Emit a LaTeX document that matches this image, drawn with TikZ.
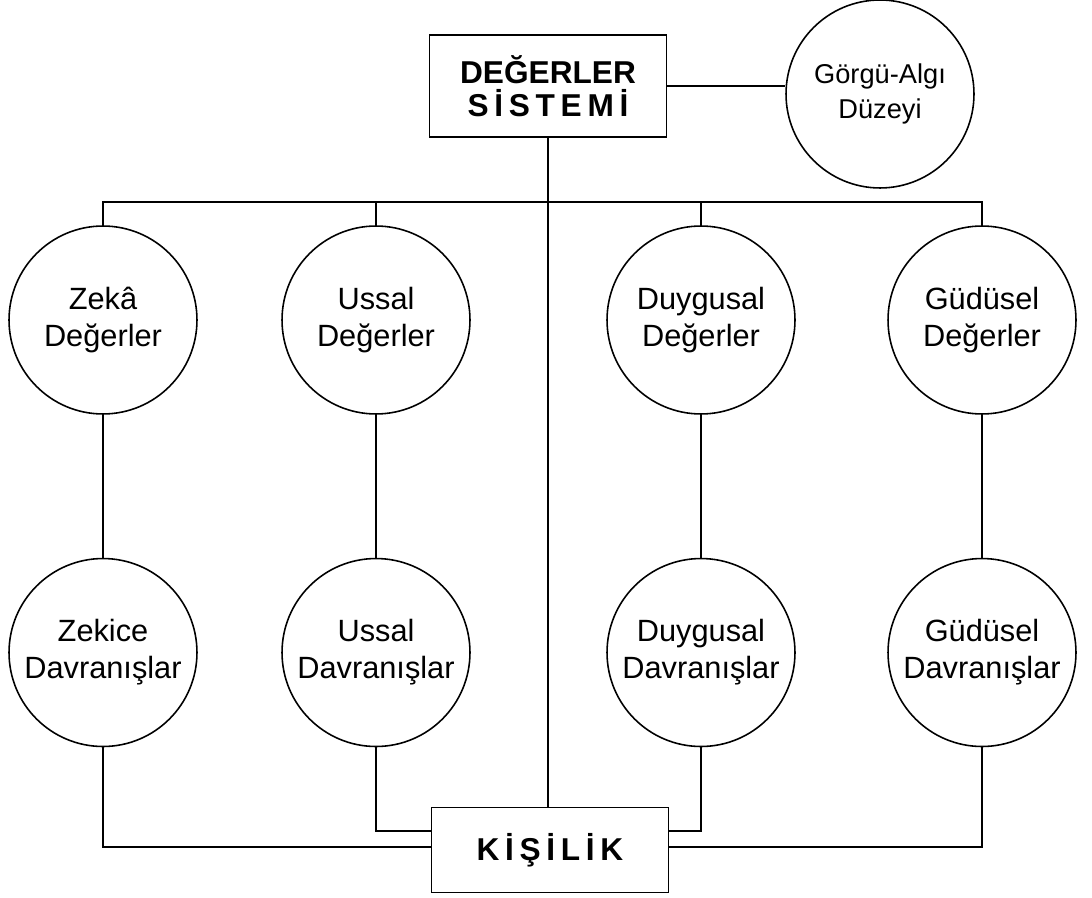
\documentclass[tikz,border=0pt]{standalone}
\usepackage{fontspec}
\setmainfont{Liberation Sans}
\newfontfamily\spacedfont[LetterSpace=18]{Liberation Sans}
\usetikzlibrary{positioning}
\tikzset{
    valuebox/.style={
        rectangle,
        draw=black,
        line width=0.9pt,
        minimum width=4.74cm,
        minimum height=2.04cm,
        inner sep=0pt,
        font=\bfseries\fontsize{18}{18.8}\selectfont,
        align=center,
    },
    valuecirc/.style={
        circle,
        draw=black,
        line width=0.9pt,
        minimum size=3.76cm,
        inner sep=0pt,
        font=\fontsize{17.5}{21}\selectfont,
        align=center,
    },
}

\begin{document}
\begin{tikzpicture}[x=0.02cm,y=-0.02cm,node distance=2.86cm,line width=0.9pt]
	    \useasboundingbox (0,0) rectangle (1092,898);
	    \node [valuebox] (DS) at (548,86) {DEĞERLER\\{\spacedfont\bfseries SİSTEMİ}};
	    \node [valuecirc,font=\fontsize{15.5}{19.4}\selectfont] (GA) at (880,94) {Görgü-Algı\\Düzeyi};
	    \node [valuebox,minimum height=1.7cm] (KI) at (550,850) {\spacedfont\bfseries KİŞİLİK};
	    \node [valuecirc] (zd) at (103,320) {Zekâ\\Değerler};
	    \node [valuecirc] (ud) at (376,320) {Ussal\\Değerler};
	    \node [valuecirc] (dd) at (701,320) {Duygusal\\Değerler};
	    \node [valuecirc] (gd) at (982,320) {Güdüsel\\Değerler};
	    \node [valuecirc] (zb) [below=of zd] {Zekice\\Davranışlar};
	    \node [valuecirc] (ub) [below=of ud] {Ussal\\Davranışlar};
	    \node [valuecirc] (db) [below=of dd] {Duygusal\\Davranışlar};
	    \node [valuecirc] (gb) [below=of gd] {Güdüsel\\Davranışlar};
	    \coordinate (bus) at (0,202);
	    \coordinate (outer) at (0,847);
	    \coordinate (inner) at (0,831);
	    \draw (DS.east) -- (DS.east -| GA.west);
	    \draw (DS.south) -- (DS.south |- KI.north);
	    \draw (zd.north) -- (zd |- bus) -- (gd |- bus) -- (gd.north);
	    \draw (ud.north) -- (ud |- bus);
	    \draw (dd.north) -- (dd |- bus);
	    \path (zd) edge (zb);
	    \path (ud) edge (ub);
	    \path (dd) edge (db);
	    \path (gd) edge (gb);
	    \draw (zb.south) -- (zb |- outer) -- (KI.west |- outer);
	    \draw (ub.south) -- (ub |- inner) -- (KI.west |- inner);
	    \draw (db.south) -- (db |- inner) -- (KI.east |- inner);
	    \draw (gb.south) -- (gb |- outer) -- (KI.east |- outer);
	\end{tikzpicture}
\end{document}
